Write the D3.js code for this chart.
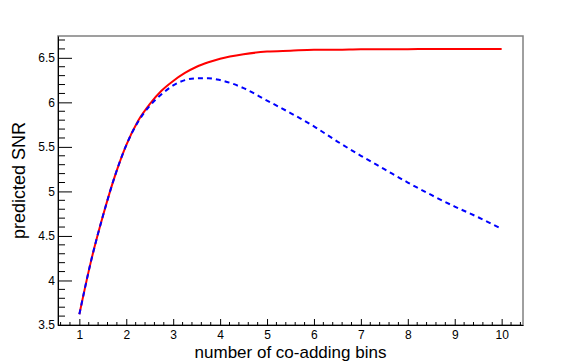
<!DOCTYPE html>
<html>
<head>
<meta charset="utf-8">
<script src="https://cdn.jsdelivr.net/npm/d3@7"></script>
<style>
  body { margin: 0; background: #fff; }
  svg { display: block; }
</style>
</head>
<body>
<div id="chart"></div>
<script>

// data
var bins = [1, 1.25, 1.5, 1.75, 2, 2.25, 2.5, 2.75, 3, 3.25, 3.5, 3.75, 4, 4.5, 5, 5.5, 6, 6.5, 7, 7.5, 8, 8.5, 9, 9.5, 10];
var snrSolid = [3.62, 4.22, 4.72, 5.16, 5.52, 5.79, 5.98, 6.13, 6.24, 6.33, 6.40, 6.45, 6.49, 6.54, 6.57, 6.58, 6.59, 6.59, 6.595, 6.595, 6.597, 6.598, 6.598, 6.598, 6.598];
var snrDashed = [3.62, 4.22, 4.72, 5.16, 5.52, 5.78, 5.96, 6.09, 6.19, 6.25, 6.27, 6.27, 6.25, 6.16, 6.02, 5.88, 5.73, 5.56, 5.40, 5.25, 5.10, 4.96, 4.83, 4.71, 4.58];
var xTicks = [1, 2, 3, 4, 5, 6, 7, 8, 9, 10];
var yTicks = [3.5, 4, 4.5, 5, 5.5, 6, 6.5];

// canvas
var W = 581, H = 364;
var margin = {top: 36, right: 58, bottom: 39, left: 58};
var width = W - margin.left - margin.right;
var height = H - margin.top - margin.bottom;

var x = d3.scaleLinear().domain([0.545, 10.455]).range([0, width]);
var y = d3.scaleLinear().domain([3.5, 6.745]).range([height, 0]);

var svg = d3.select('#chart').append('svg')
    .attr('width', W)
    .attr('height', H)
  .append('g')
    .attr('transform', 'translate(' + margin.left + ',' + margin.top + ')');

// frame
svg.append('rect')
    .attr('x', 0).attr('y', 0)
    .attr('width', width).attr('height', height)
    .attr('fill', 'none')
    .attr('stroke', '#808080')
    .attr('stroke-width', 1.5);

// minor ticks
var xMinor = d3.range(0.6, 10.45, 0.2).filter(function(v) { return Math.abs(v - Math.round(v)) > 0.01; });
var yMinor = d3.range(3.5, 6.745, 0.1).filter(function(v) { return Math.abs(v * 2 - Math.round(v * 2)) > 0.01; });

svg.selectAll('line.xminor')
    .data(xMinor)
  .enter().append('line')
    .attr('x1', function(d) { return x(d); })
    .attr('x2', function(d) { return x(d); })
    .attr('y1', height)
    .attr('y2', height - 3)
    .attr('stroke', '#000');

svg.selectAll('line.yminor')
    .data(yMinor)
  .enter().append('line')
    .attr('y1', function(d) { return y(d); })
    .attr('y2', function(d) { return y(d); })
    .attr('x1', 0)
    .attr('x2', 7)
    .attr('stroke', '#000');

// axes, ticks pointing into the frame
var xAxis = d3.axisBottom(x)
    .tickValues(xTicks)
    .tickSizeInner(-6)
    .tickSizeOuter(0)
    .tickPadding(5)
    .tickFormat(d3.format('d'));

var yAxis = d3.axisLeft(y)
    .tickValues(yTicks)
    .tickSizeInner(-14)
    .tickSizeOuter(0)
    .tickPadding(3)
    .tickFormat(function(d) { return String(d); });

var gx = svg.append('g')
    .attr('transform', 'translate(0,' + height + ')')
    .call(xAxis);

var gy = svg.append('g')
    .call(yAxis);

[gx, gy].forEach(function(g) {
  g.selectAll('text')
      .attr('font-family', 'Liberation Sans, Arial, sans-serif')
      .attr('font-size', '12px')
      .attr('fill', '#000');
  g.select('.domain').attr('stroke', '#000');
});
gy.selectAll('text').attr('x', -3);

// curves
var line = d3.line()
    .x(function(d) { return x(d[0]); })
    .y(function(d) { return y(d[1]); })
    .curve(d3.curveMonotoneX);

svg.append('path')
    .datum(d3.zip(bins, snrSolid))
    .attr('d', line)
    .attr('fill', 'none')
    .attr('stroke', '#ff0000')
    .attr('stroke-width', 2);

svg.append('path')
    .datum(d3.zip(bins, snrDashed))
    .attr('d', line)
    .attr('fill', 'none')
    .attr('stroke', '#0000ff')
    .attr('stroke-width', 2)
    .attr('stroke-dasharray', '5,4');

// axis titles
svg.append('text')
    .attr('x', width / 2)
    .attr('y', height + 33)
    .attr('text-anchor', 'middle')
    .attr('font-family', 'Liberation Sans, Arial, sans-serif')
    .attr('font-size', '17px')
    .text('number of co-adding bins');

svg.append('text')
    .attr('transform', 'translate(' + (25 - margin.left) + ',' + (height / 2) + ') rotate(-90)')
    .attr('text-anchor', 'middle')
    .attr('font-family', 'Liberation Sans, Arial, sans-serif')
    .attr('font-size', '18px')
    .text('predicted SNR');

</script>
</body>
</html>
